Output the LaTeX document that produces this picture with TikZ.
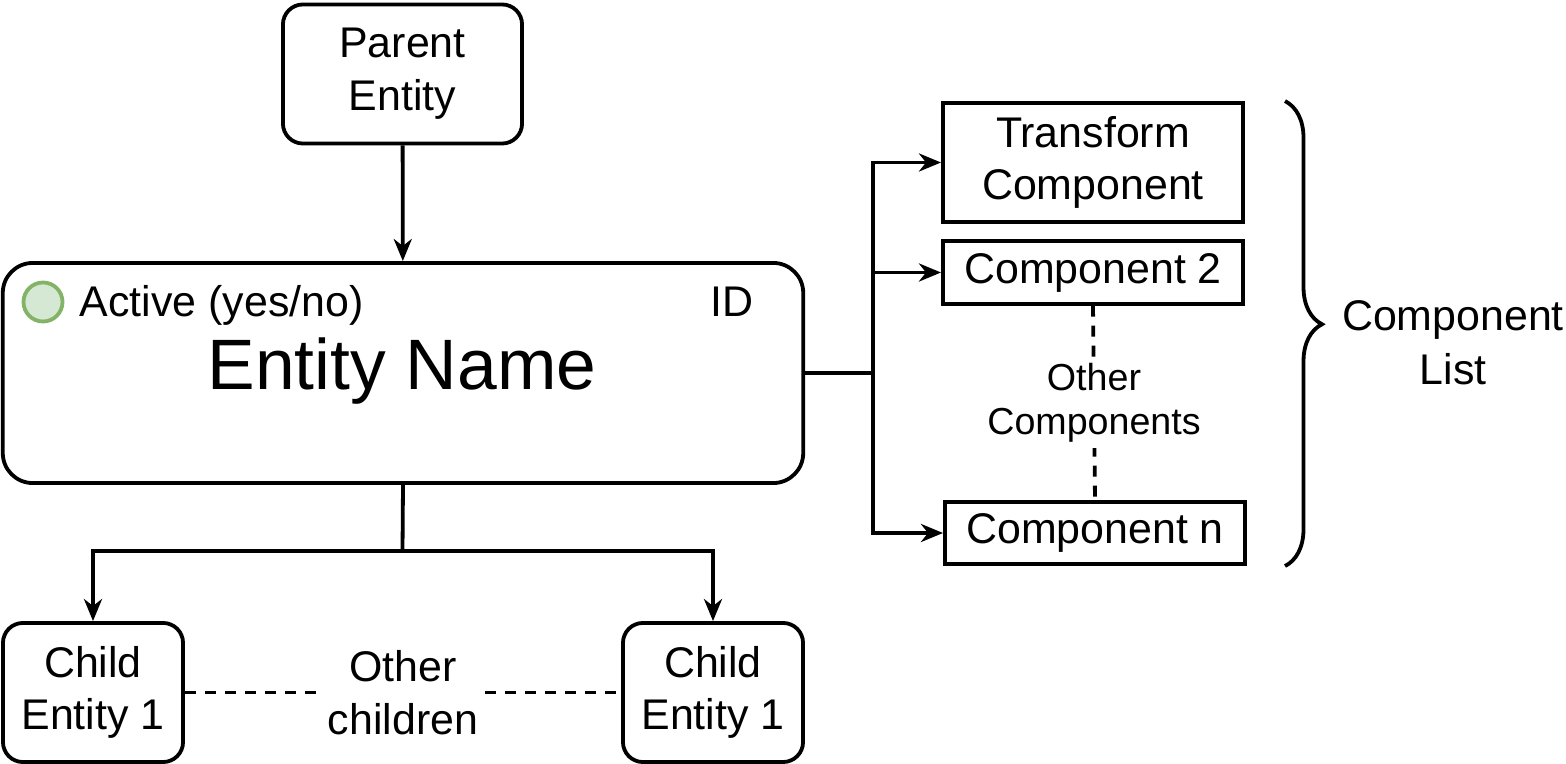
\documentclass[tikz,border=0pt]{standalone}
\usepackage{fontspec}
\setmainfont{Liberation Sans}
\usetikzlibrary{arrows.meta,positioning,decorations.pathreplacing}

\begin{document}
\begin{tikzpicture}[
  x=0.01cm, y=-0.01cm,
  line width=0.038cm,
  entity/.style={rectangle, draw, rounded corners=0.2cm, align=center,
    font=\fontsize{12.2}{15}\selectfont},
  comp/.style={rectangle, draw, align=center, minimum width=3.0cm,
    font=\fontsize{12.2}{15}\selectfont},
  link/.style={-{Stealth[length=0.22cm, width=0.18cm, inset=0.07cm]}},
  gap/.style={dash pattern=on 0.11cm off 0.09cm},
  note/.style={fill=white, align=center, inner sep=0.06cm},
]
  \useasboundingbox (0,0) rectangle (1566,764);

  % entities
  \node[entity, minimum width=2.39cm, minimum height=1.39cm] (parent) at (402.5,74) {Parent\\Entity};
  \node[entity, rounded corners=0.3cm, minimum width=8.0cm, minimum height=2.2cm] (main) at (403,373) {};
  \node[entity, minimum width=1.8cm, minimum height=1.39cm] (child1) at (93,692.5) {Child\\Entity 1};
  \node[entity, minimum width=1.8cm, minimum height=1.39cm] (child2) at (713,692.5) {Child\\Entity 1};

  % inside the entity box
  \node[circle, draw={rgb,255:red,130;green,179;blue,102},
    fill={rgb,255:red,213;green,232;blue,212}, minimum size=0.39cm, inner sep=0pt] (active) at (43,302) {};
  \node[anchor=base west, inner sep=0pt, font=\fontsize{12.2}{15}\selectfont] (activetxt) at (78,317) {Active (yes/no)};
  \node[anchor=base, inner sep=0pt, font=\fontsize{12.2}{15}\selectfont] (id) at (732,317) {ID};
  \node[anchor=base, inner sep=0pt, font=\fontsize{20.3}{24}\selectfont] (name) at (402,390) {Entity Name};

  % components
  \node[comp, minimum height=1.19cm] (transform) at (1093,162.5) {Transform\\Component};
  \node[comp, minimum height=0.59cm] (comp2) at (1093,272.5) {Component 2};
  \node[comp, minimum height=0.6cm] (compn) at (1095,533) {Component n};

  % connectors
  \draw[link] (parent) -- (main);
  \coordinate (cfork) at (402.5,551);
  \draw (main.south) -- (cfork);
  \draw[link] (cfork) -| (child1.north);
  \draw[link] (cfork) -| (child2.north);

  \coordinate (rfork) at (873,373);
  \draw (main.east) -- (rfork);
  \draw[link] (rfork) |- (transform.west);
  \draw[link] (rfork) |- (comp2.west);
  \draw[link] (rfork) |- (compn.west);

  \draw[gap] (child1.east) -- node[note, font=\fontsize{12.2}{15}\selectfont] (others) {Other\\children} (child2.west);
  \draw[gap] (comp2.south) -- node[note, font=\fontsize{10.7}{12.4}\selectfont] (othercomp) {Other\\Components} (compn.north);

  % component list brace
  \draw[decorate, decoration={brace, amplitude=0.37cm, aspect=0.48}]
    ([xshift=0.4cm]transform.north east) -- ([xshift=0.38cm]compn.south east);
  \node[align=center, font=\fontsize{12.2}{15.3}\selectfont] (clist) at (1453,343) {Component\\List};
\end{tikzpicture}
\end{document}
